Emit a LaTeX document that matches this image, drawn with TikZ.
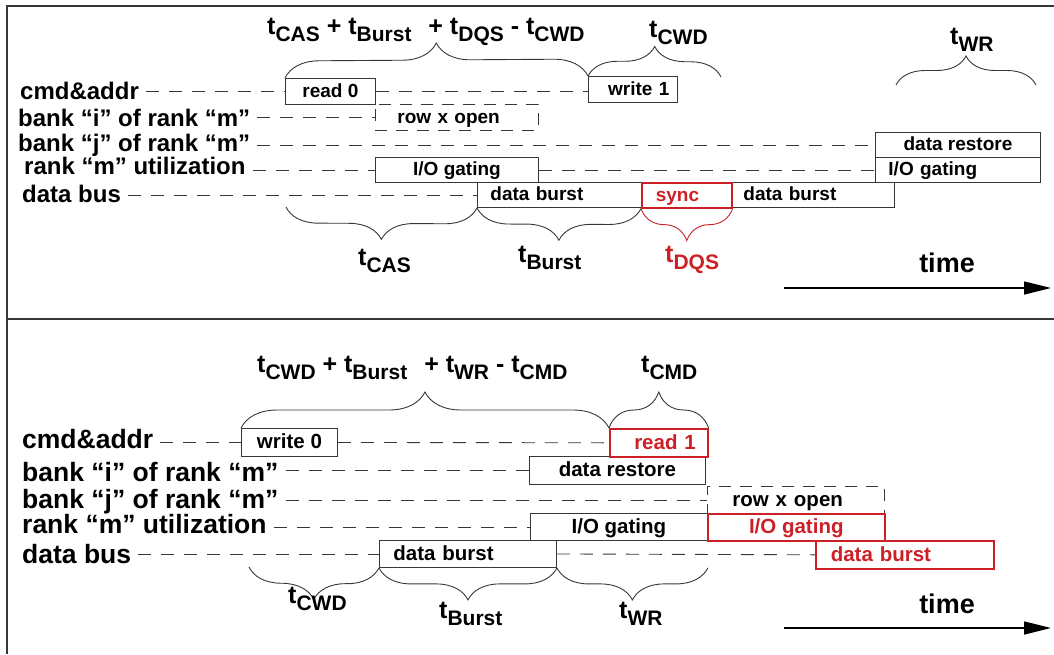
\documentclass[tikz,border=0pt]{standalone}
\usepackage{fontspec}
\setmainfont{Liberation Sans}
\usetikzlibrary{arrows.meta,decorations.pathreplacing}
\definecolor{sigred}{RGB}{205,32,38}
\definecolor{edge}{RGB}{55,55,55}
\newcommand{\tsub}[1]{t\raisebox{-0.28em}{\fontsize{21}{21}\selectfont #1}}

\begin{document}
\begin{tikzpicture}[x=1pt, y=-1pt,
    box/.style={draw=edge, line width=0.9pt, anchor=north west, inner sep=0pt, text height=14pt, text depth=2pt, font=\fontsize{19}{19}\selectfont\bfseries},
    boxB/.style={box, text height=15pt, text depth=2pt, font=\fontsize{20.5}{20.5}\selectfont\bfseries},
    hot/.style={draw=sigred, text=sigred, line width=1.6pt},
    idle/.style={dash pattern=on 12pt off 9pt},
    lane/.style={draw=edge, line width=0.9pt, dash pattern=on 13pt off 10pt},
    lead/.style={lane, shorten <=7pt},
    lbl/.style={anchor=base west, inner sep=0pt, font=\fontsize{24}{24}\selectfont\bfseries},
    lblB/.style={lbl, font=\fontsize{26.5}{26.5}\selectfont\bfseries},
    tlab/.style={anchor=base west, inner sep=0pt, font=\fontsize{25}{25}\selectfont\bfseries},
    tmark/.style={anchor=base, inner sep=0pt, font=\fontsize{27}{27}\selectfont\bfseries},
    brc/.style={draw=edge, line width=0.9pt, decorate, decoration={brace, amplitude=#1}},
    brcd/.style={draw=edge, line width=0.9pt, decorate, decoration={brace, mirror, amplitude=#1}},
    frame/.style={draw=edge, line width=1.4pt},
    clock/.style={line width=1.3pt, -{Triangle[length=27pt, width=13pt]}}]
    \useasboundingbox (0,0) rectangle (1054,654);
    \draw[frame] (7,654) -- (7,6) -- (1054,6);
    \draw[frame] (7,319) -- (1054,319);

    % read then write
    \foreach \n/\y/\x/\txt in {c/99/20/cmd\&addr, i/126/18/bank “i” of rank “m”, j/151/18/bank “j” of rank “m”, r/174/24/rank “m” utilization, d/202/22/data bus}
        \node[lbl] (lT\n) at (\x,\y) {\txt};

    \node[box, minimum width=90pt, minimum height=26pt] (read0) at (285,78) {read 0};
    \node[box, idle, minimum width=163pt, minimum height=26pt, text width=119pt, inner xsep=22pt, align=left] (rowT) at (375,104) {row x open};
    \node[box, minimum width=89pt, minimum height=26pt, text width=73pt, inner xsep=8pt, align=right] (write1) at (588,76) {write 1};
    \node[box, minimum width=165pt, minimum height=25pt] (restT) at (875,132) {data restore};
    \node[box, minimum width=165pt, minimum height=25pt, text width=139pt, inner xsep=13pt, align=left] (gateT2) at (875,157) {I/O gating};
    \node[box, minimum width=163pt, minimum height=25pt] (gateT1) at (375,157) {I/O gating};
    \node[box, minimum width=164pt, minimum height=25pt, text width=138pt, inner xsep=13pt, align=left] (bstT1) at (477,182) {data burst};
    \node[box, minimum width=163pt, minimum height=25pt, text width=139pt, inner xsep=12pt, align=left] (bstT2) at (731,182) {data burst};
    \node[box, hot, minimum width=90pt, minimum height=25pt, text width=62pt, inner xsep=14pt, align=left] (sync) at (641,182) {sync};

    \draw[lead] (lTc.east |- read0.west) -- (read0.west);
    \draw[lane] (read0.east) -- (read0.east -| write1.west);
    \draw[lead] (lTi.east |- rowT.west) -- (rowT.west);
    \draw[lead] (lTj.east |- restT.west) -- (restT.west);
    \draw[lead] (lTr.east |- gateT1.west) -- (gateT1.west);
    \draw[lane] (gateT1.east) -- (gateT2.west);
    \draw[lead] (lTd.east |- bstT1.west) -- (bstT1.west);

    \coordinate (cwdT) at (721,77);
    \coordinate (wrL) at (896,85);
    \coordinate (wrR) at (1036,85);
    \coordinate (casL) at (286,207);
    \draw[brc=34] (read0.north west) -- (write1.north west);
    \draw[brc=30] (write1.north west) -- (cwdT);
    \draw[brc=29] (wrL) -- (wrR);
    \draw[brcd=32] (casL) -- (bstT1.south west);
    \draw[brcd=32] (bstT1.south west) -- (sync.south west);
    \draw[brcd=32, draw=sigred] (sync.south west) -- (sync.south east);

    \node[tlab] (sumT) at (267,34) {\tsub{CAS} + \tsub{Burst}\hspace{10pt} + \tsub{DQS} - \tsub{CWD}};
    \node[tlab] (cwdTl) at (649,37) {\tsub{CWD}};
    \node[tlab] (wrTl) at (950,44) {\tsub{WR}};
    \node[tlab] (casTl) at (358,265) {\tsub{CAS}};
    \node[tlab] (bstTl) at (518,262) {\tsub{Burst}};
    \node[tlab, text=sigred] (dqsTl) at (665,262) {\tsub{DQS}};

    \coordinate (tT0) at (784,288);
    \coordinate (tT1) at (1051,288);
    \draw[clock] (tT0) -- (tT1);
    \node[tmark] (timeT) at (947,272) {time};

    % write then read
    \foreach \n/\y/\txt in {c/448/cmd\&addr, i/481/bank “i” of rank “m”, j/508/bank “j” of rank “m”, r/533/rank “m” utilization, d/563/data bus}
        \node[lblB] (lB\n) at (22,\y) {\txt};

    \node[boxB, minimum width=96pt, minimum height=28pt] (write0) at (241,428) {write 0};
    \node[boxB, minimum width=176pt, minimum height=28pt] (restB) at (529,456) {data restore};
    \node[boxB, idle, minimum width=177pt, minimum height=27pt, text width=127pt, inner xsep=25pt, align=left] (rowB) at (707,486) {row x open};
    \node[boxB, minimum width=177pt, minimum height=27pt] (gateB1) at (530,513) {I/O gating};
    \node[boxB, minimum width=177pt, minimum height=27pt, text width=149pt, inner xsep=14pt, align=left] (bstB1) at (379,540) {data burst};
    \node[boxB, hot, minimum width=98pt, minimum height=28pt, text width=74pt, inner xsep=12pt, align=right] (read1) at (609,428) {read 1};
    \node[boxB, hot, minimum width=177pt, minimum height=27pt] (gateB2) at (707,513) {I/O gating};
    \node[boxB, hot, minimum width=178pt, minimum height=28pt, text width=148pt, inner xsep=15pt, align=left] (bstB2) at (815,540) {data burst};

    \draw[lead] (lBc.east |- write0.west) -- (write0.west);
    \draw[lane] (write0.east) -- (read1.west);
    \draw[lead] (lBi.east |- restB.west) -- (restB.west);
    \draw[lead] (lBj.east |- rowB.west) -- (rowB.west);
    \draw[lead] (lBr.east |- gateB1.west) -- (gateB1.west);
    \draw[lead] (lBd.east |- bstB1.west) -- (bstB1.west);
    \draw[lane] (bstB1.east) -- (bstB2.west);

    \coordinate (cwdB) at (249,567);
    \draw[brc=36] (write0.north west) -- (read1.north west);
    \draw[brc=36] (read1.north west) -- (read1.north east);
    \draw[brcd=32] (cwdB) -- (bstB1.south west);
    \draw[brcd=32] (bstB1.south west) -- (bstB1.south east);
    \draw[brcd=32] (bstB1.south east) -- (gateB1.south east |- bstB1.south east);

    \node[tlab] (sumB) at (257,372) {\tsub{CWD} + \tsub{Burst}\hspace{10pt} + \tsub{WR} - \tsub{CMD}};
    \node[tlab] (cmdBl) at (641,372) {\tsub{CMD}};
    \node[tlab] (cwdBl) at (288,603) {\tsub{CWD}};
    \node[tlab] (bstBl) at (439,618) {\tsub{Burst}};
    \node[tlab] (wrBl) at (619,618) {\tsub{WR}};

    \coordinate (tB0) at (784,628);
    \coordinate (tB1) at (1051,628);
    \draw[clock] (tB0) -- (tB1);
    \node[tmark] (timeB) at (947,613) {time};
\end{tikzpicture}
\end{document}
